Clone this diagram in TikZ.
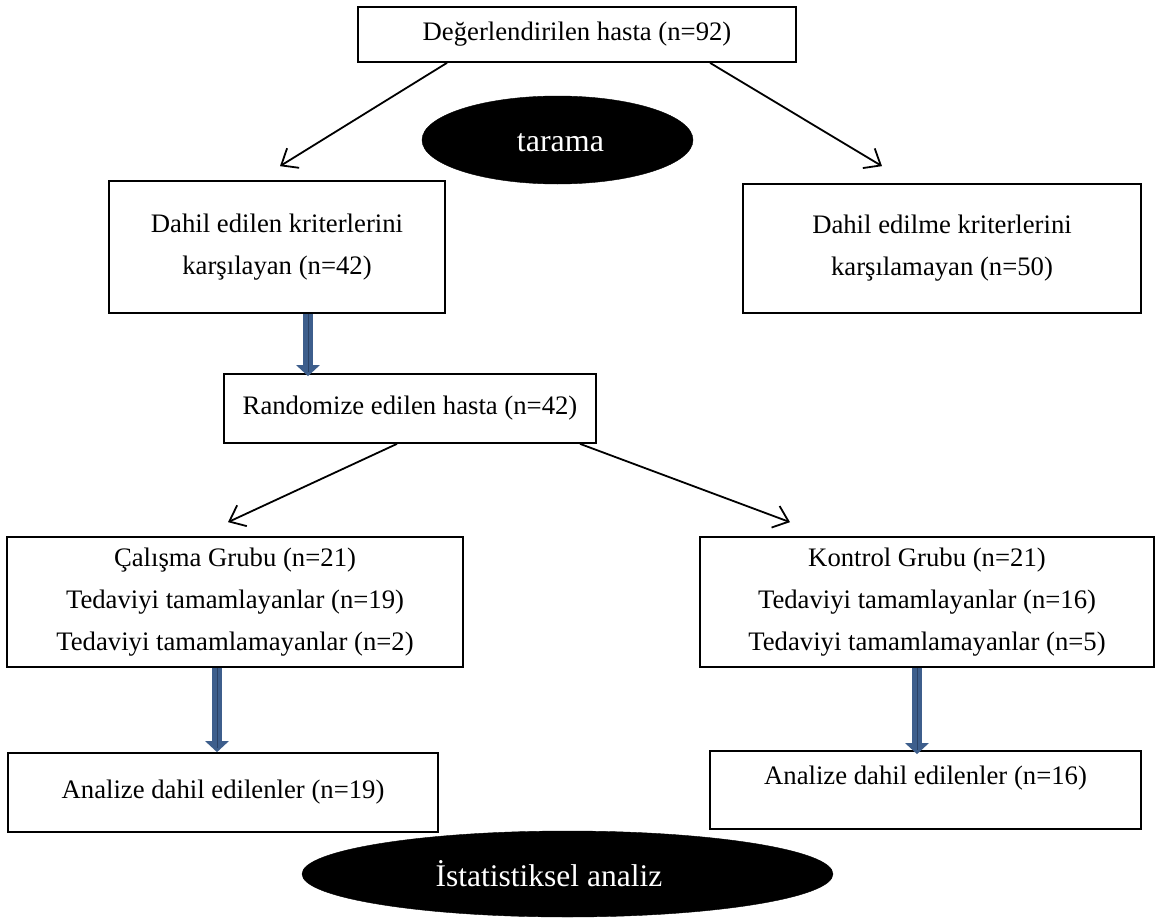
\documentclass[tikz,border=0pt]{standalone}
\usepackage{fontspec}
\setmainfont{Liberation Serif}
\usetikzlibrary{arrows.meta,shapes.geometric}
\definecolor{barblue}{HTML}{3D5E8C}
\definecolor{bardark}{HTML}{2A4266}
\tikzset{
  box/.style={draw=black,line width=1.7pt,rectangle,inner sep=0pt,align=center,
    font=\fontsize{26.7}{42}\selectfont},
  oval/.style={ellipse,fill=black,draw=black,inner sep=0pt},
  ovaltext/.style={inner sep=0pt,text=white},
  arr/.style={line width=1.8pt,-{Straight Barb[length=14pt,width=23pt,line width=1.8pt]}},
  bluearr/.style={barblue,line width=10pt,-{Triangle[length=11pt,width=23pt]},
    postaction={draw=bardark,line width=0.8pt,-,shorten >=4pt}},
  txt/.style={inner sep=0pt,font=\fontsize{26.7}{42}\selectfont}
}
\begin{document}
\begin{tikzpicture}[x=1pt,y=-1pt]
\useasboundingbox[fill=white] (0,0) rectangle (1165,918);
\node[box,minimum width=438pt,minimum height=55pt] (top) at (577,34.5) {Değerlendirilen hasta (n=92)};
\node[oval,minimum width=271pt,minimum height=88pt] (tar) at (557.5,140) {};
\node[ovaltext,font=\fontsize{32}{36}\selectfont] (tart) at (560.5,143) {tarama};
\node[box,minimum width=336pt,minimum height=132pt] (dl) at (277,247) {Dahil edilen kriterlerini\\karşılayan (n=42)};
\node[box,minimum width=398pt,minimum height=129pt] (dr) at (942,248.5) {Dahil edilme kriterlerini\\karşılamayan (n=50)};
\node[box,minimum width=372pt,minimum height=69pt] (rb) at (410,408.5) {Randomize edilen hasta (n=42)};
\node[box,minimum width=456pt,minimum height=130pt] (cal) at (235,602) {Çalışma Grubu (n=21)\\Tedaviyi tamamlayanlar (n=19)\\Tedaviyi tamamlamayanlar (n=2)};
\node[box,minimum width=454pt,minimum height=130pt] (kon) at (927,602) {Kontrol Grubu (n=21)\\Tedaviyi tamamlayanlar (n=16)\\Tedaviyi tamamlamayanlar (n=5)};
\node[box,minimum width=430pt,minimum height=79pt] (al) at (223,792.5) {Analize dahil edilenler (n=19)};
\node[box,minimum width=431pt,minimum height=78pt] (ar) at (925.5,790) {};
\node[txt] (art) at (925.5,778) {Analize dahil edilenler (n=16)};
\node[oval,minimum width=531pt,minimum height=86pt] (ist) at (567.5,874) {};
\node[ovaltext,font=\fontsize{31.5}{36}\selectfont] (istt) at (549,874) {İstatistiksel analiz};
\draw[arr] ([xshift=-130pt]top.south) -- ([xshift=3pt,yshift=14pt]dl.north);
\draw[arr] ([xshift=133pt]top.south) -- ([xshift=-60pt,yshift=17pt]dr.north);
\draw[arr] ([xshift=-13pt]rb.south) -- ([xshift=-7pt,yshift=14pt]cal.north);
\draw[arr] ([xshift=170pt]rb.south) -- ([xshift=-137pt,yshift=14pt]kon.north);
\draw[bluearr] ([xshift=31pt]dl.south) -- ([xshift=31pt,yshift=-3pt]dl.south |- rb.north);
\draw[bluearr] ([xshift=-18pt]cal.south) -- ([xshift=-18pt]cal.south |- al.north);
\draw[bluearr] ([xshift=-10pt]kon.south) -- ([xshift=-10pt,yshift=-4pt]kon.south |- ar.north);
\end{tikzpicture}
\end{document}
